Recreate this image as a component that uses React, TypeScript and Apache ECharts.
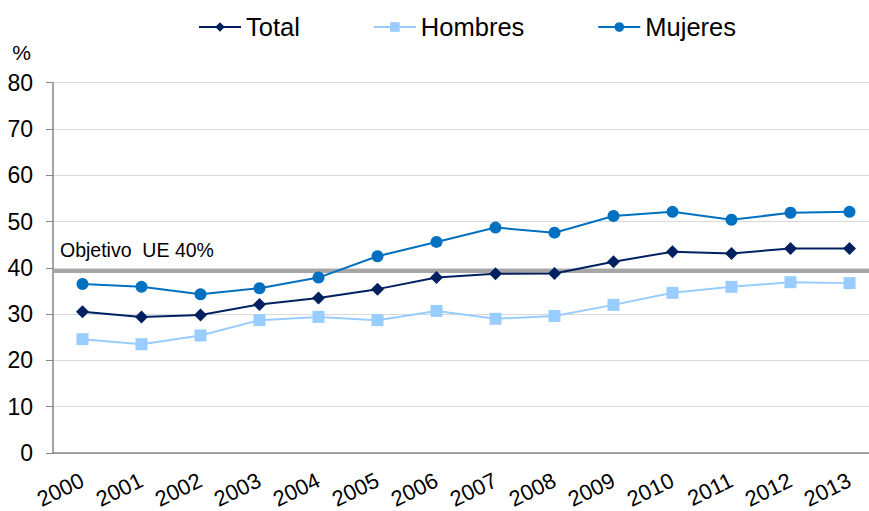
import React, { useEffect, useRef } from "react";
import * as echarts from "echarts";

const years = ["2000","2001","2002","2003","2004","2005","2006","2007","2008","2009","2010","2011","2012","2013"];
const total = [30.5, 29.4, 29.8, 32.1, 33.5, 35.4, 37.9, 38.7, 38.8, 41.3, 43.5, 43.1, 44.2, 44.2];
const hombres = [24.6, 23.5, 25.4, 28.7, 29.4, 28.7, 30.7, 29.0, 29.6, 32.0, 34.6, 35.9, 36.9, 36.7];
const mujeres = [36.5, 35.9, 34.3, 35.6, 37.9, 42.5, 45.6, 48.7, 47.6, 51.2, 52.1, 50.4, 51.9, 52.1];
const targetValue = 39.4;
const targetLabel = "Objetivo  UE 40%";
const yTicks = { min: 0, max: 80, interval: 10 };

const FONT = "'Liberation Sans', Arial, sans-serif";

export default function App() {
  const ref = useRef<HTMLDivElement>(null);
  useEffect(() => {
    if (!ref.current) return;
    const chart = echarts.init(ref.current, undefined, { renderer: "svg" });
    chart.setOption({
      animation: false,
      textStyle: { fontFamily: FONT },
      legend: {
        top: 9,
        left: 193,
        itemWidth: 42,
        itemHeight: 12,
        itemGap: 73,
        textStyle: { fontSize: 25.5, color: "#000", fontFamily: FONT },
        data: ["Total", "Hombres", "Mujeres"],
      },
      grid: { left: 53, width: 826, top: 82.7, bottom: 58, containLabel: false, outerBoundsMode: "none" },
      xAxis: {
        type: "category",
        data: years,
        boundaryGap: true,
        axisLine: { lineStyle: { color: "#868686", width: 1.5 } },
        axisTick: { show: false },
        axisLabel: { interval: 0, rotate: 26, fontSize: 22, color: "#000", margin: 26, fontFamily: FONT, hideOverlap: false },
      },
      yAxis: {
        type: "value",
        min: yTicks.min,
        max: yTicks.max,
        interval: yTicks.interval,
        name: "%",
        nameLocation: "end",
        nameGap: 30,
        nameTextStyle: { fontSize: 21, color: "#000", align: "right", verticalAlign: "middle", padding: [0, 22, 0, 0], fontFamily: FONT },
        axisLine: { show: true, lineStyle: { color: "#868686", width: 1.5 } },
        axisTick: { show: true, length: 7, lineStyle: { color: "#868686" } },
        axisLabel: { fontSize: 23, color: "#000", margin: 20, fontFamily: FONT },
        splitLine: { lineStyle: { color: "#d9d9d9", width: 1 } },
      },
      series: [
        {
          name: "Total",
          type: "line",
          data: total,
          symbol: "diamond",
          symbolSize: 13,
          itemStyle: { color: "#002060" },
          lineStyle: { color: "#002060", width: 2 },
          z: 4,
          markLine: {
            silent: true,
            symbol: "none",
            lineStyle: { color: "#a6a6a6", width: 4, type: "solid" },
            label: {
              show: true,
              position: "insideStartTop",
              formatter: targetLabel,
              fontSize: 19.5,
              color: "#000",
              fontFamily: FONT,
              distance: [7, 11],
            },
            data: [{ yAxis: targetValue }],
            z: 2,
          },
        },
        {
          name: "Hombres",
          type: "line",
          data: hombres,
          symbol: "rect",
          symbolSize: 12,
          itemStyle: { color: "#99CCFF" },
          lineStyle: { color: "#99CCFF", width: 2 },
          z: 3,
        },
        {
          name: "Mujeres",
          type: "line",
          data: mujeres,
          symbol: "circle",
          symbolSize: 12,
          itemStyle: { color: "#0070C0" },
          lineStyle: { color: "#0070C0", width: 2 },
          z: 3,
        },
      ],
    });
    return () => chart.dispose();
  }, []);
  return <div ref={ref} style={{ width: 869, height: 511, position: "absolute", left: 0, top: 0, background: "#fff" }} />;
}
